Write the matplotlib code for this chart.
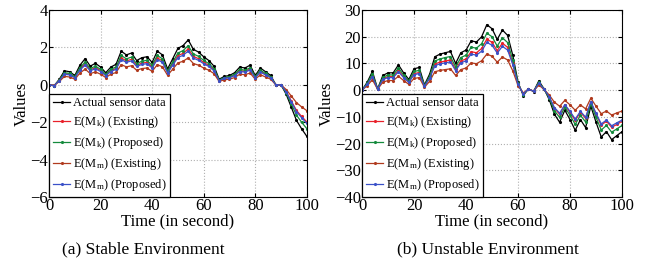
import matplotlib
matplotlib.use('Agg')
import matplotlib.pyplot as plt

plt.rcParams['font.family'] = ['Liberation Serif', 'DejaVu Serif']
plt.rcParams['mathtext.fontset'] = 'custom'
plt.rcParams['mathtext.rm'] = 'Liberation Serif'
plt.rcParams['mathtext.it'] = 'Liberation Serif:italic'

# time axis (seconds)
t = list(range(0, 101, 2))

# (a) stable environment
stable_actual = [0.0, -0.05, 0.3, 0.75, 0.7, 0.5, 1.05, 1.4, 1.0, 1.15, 0.95, 0.65, 0.95, 1.1, 1.8,
                 1.6, 1.7, 1.3, 1.45, 1.5, 1.2, 1.8, 1.6, 0.85, 1.4, 1.95, 2.1, 2.4, 1.9, 1.75, 1.5,
                 1.3, 1.0, 0.3, 0.45, 0.5, 0.65, 0.95, 0.9, 1.05, 0.5, 0.9, 0.7, 0.5, 0.0, 0.0,
                 -0.5, -1.2, -1.9, -2.35, -2.75]
stable_mk_exist = [0.0, -0.04, 0.24, 0.6, 0.56, 0.4, 0.84, 1.12, 0.8, 0.92, 0.76, 0.52, 0.76, 0.88, 1.44,
                   1.28, 1.36, 1.04, 1.16, 1.2, 0.96, 1.44, 1.28, 0.68, 1.12, 1.56, 1.68, 1.92, 1.52, 1.4,
                   1.2, 1.04, 0.8, 0.24, 0.36, 0.4, 0.52, 0.76, 0.72, 0.84, 0.4, 0.72, 0.56, 0.4, 0.0, 0.0,
                   -0.36, -0.86, -1.37, -1.69, -1.98]
stable_mk_prop = [0.0, -0.04, 0.26, 0.65, 0.61, 0.44, 0.91, 1.22, 0.87, 1.0, 0.83, 0.57, 0.83, 0.96, 1.57,
                  1.39, 1.48, 1.13, 1.26, 1.31, 1.04, 1.57, 1.39, 0.74, 1.22, 1.7, 1.83, 2.09, 1.65, 1.52,
                  1.31, 1.13, 0.87, 0.26, 0.39, 0.44, 0.57, 0.83, 0.78, 0.91, 0.44, 0.78, 0.61, 0.44, 0.0,
                  0.0, -0.43, -1.02, -1.62, -2.0, -2.34]
stable_mm_exist = [0.0, -0.03, 0.18, 0.45, 0.42, 0.3, 0.63, 0.84, 0.6, 0.69, 0.57, 0.39, 0.57, 0.66, 1.08,
                   0.96, 1.02, 0.78, 0.87, 0.9, 0.72, 1.08, 0.96, 0.51, 0.84, 1.17, 1.26, 1.44, 1.14, 1.05,
                   0.9, 0.78, 0.6, 0.18, 0.27, 0.3, 0.39, 0.57, 0.54, 0.63, 0.3, 0.54, 0.42, 0.3, 0.0, 0.0,
                   -0.25, -0.6, -0.95, -1.18, -1.38]
stable_mm_prop = [0.0, -0.04, 0.23, 0.56, 0.53, 0.38, 0.79, 1.05, 0.75, 0.86, 0.71, 0.49, 0.71, 0.83, 1.35,
                  1.2, 1.28, 0.98, 1.09, 1.13, 0.9, 1.35, 1.2, 0.64, 1.05, 1.46, 1.58, 1.8, 1.43, 1.31,
                  1.13, 0.98, 0.75, 0.23, 0.34, 0.38, 0.49, 0.71, 0.68, 0.79, 0.38, 0.68, 0.53, 0.38, 0.0,
                  0.0, -0.38, -0.9, -1.43, -1.76, -2.06]

# (b) unstable environment
unstable_actual = [0, 3.0, 7.0, 0.5, 5.5, 6.5, 6.5, 9.5, 6.5, 4.0, 8.0, 8.5, 2.0, 6.0, 12.5, 13.5, 14.0,
                   14.5, 10.0, 14.0, 15.0, 18.5, 18.0, 20.0, 24.5, 23.0, 19.0, 22.5, 20.5, 13.0, 3.0,
                   -2.0, 0.5, -0.5, 3.5, 0.5, -3.5, -9.0, -12.0, -7.5, -11.0, -15.0, -11.0, -14.0, -6.0,
                   -12.0, -17.5, -15.5, -18.5, -17.0, -15.5]
unstable_mk_exist = [0, 2.3, 5.5, 0.4, 4.3, 5.1, 5.1, 7.4, 5.1, 3.1, 6.2, 6.6, 1.6, 4.7, 9.8, 10.5, 10.9,
                     11.3, 7.8, 10.9, 11.7, 14.4, 14.0, 15.6, 19.1, 17.9, 14.8, 17.6, 16.0, 10.1, 2.3,
                     -1.5, 0.4, -0.4, 2.7, 0.4, -2.6, -6.8, -9.0, -5.6, -8.3, -11.3, -8.3, -10.5, -4.5,
                     -9.0, -13.1, -11.6, -13.9, -12.8, -11.6]
unstable_mk_prop = [0, 2.6, 6.1, 0.4, 4.8, 5.7, 5.7, 8.3, 5.7, 3.5, 7.0, 7.4, 1.7, 5.2, 10.9, 11.7, 12.2,
                    12.6, 8.7, 12.2, 13.1, 16.1, 15.7, 17.4, 21.3, 20.0, 16.5, 19.6, 17.8, 11.3, 2.6,
                    -1.7, 0.4, -0.4, 3.0, 0.4, -3.0, -7.7, -10.2, -6.4, -9.4, -12.8, -9.4, -11.9, -5.1,
                    -10.2, -14.9, -13.2, -15.7, -14.5, -13.2]
unstable_mm_exist = [0, 1.7, 3.9, 0.3, 3.0, 3.6, 3.6, 5.2, 3.6, 2.2, 4.4, 4.7, 1.1, 3.3, 6.9, 7.4, 7.7,
                     8.0, 5.5, 7.7, 8.3, 10.2, 9.9, 11.0, 13.5, 12.7, 10.5, 12.4, 11.3, 7.2, 1.7, -1.0,
                     0.3, -0.3, 1.9, 0.3, -1.8, -4.5, -6.0, -3.8, -5.5, -7.5, -5.5, -7.0, -3.0, -6.0,
                     -8.8, -7.8, -9.3, -8.5, -7.8]
unstable_mm_prop = [0, 2.2, 5.1, 0.4, 4.0, 4.7, 4.7, 6.9, 4.7, 2.9, 5.8, 6.2, 1.5, 4.4, 9.1, 9.9, 10.2,
                    10.6, 7.3, 10.2, 11.0, 13.5, 13.1, 14.6, 17.9, 16.8, 13.9, 16.4, 15.0, 9.5, 2.2,
                    -1.4, 0.4, -0.4, 2.6, 0.4, -2.5, -6.5, -8.6, -5.4, -7.9, -10.8, -7.9, -10.1, -4.3,
                    -8.6, -12.6, -11.2, -13.3, -12.2, -11.2]

labels = ['Actual sensor data',
          r'E(M$_\mathrm{k}$) (Existing)',
          r'E(M$_\mathrm{k}$) (Proposed)',
          r'E(M$_\mathrm{m}$) (Existing)',
          r'E(M$_\mathrm{m}$) (Proposed)']
colors = ['black', '#e8202a', '#148a3c', '#b03a1e', '#3a50c8']

fig = plt.figure(figsize=(6.46, 2.70), dpi=100)
ax1 = fig.add_axes([0.0759, 0.270, 0.399, 0.693])
ax2 = fig.add_axes([0.5604, 0.270, 0.4025, 0.693])

panels = [
    (ax1, [stable_actual, stable_mk_exist, stable_mk_prop, stable_mm_exist, stable_mm_prop],
     (-6, 4), range(-6, 5, 2), '(a) Stable Environment', 0.222),
    (ax2, [unstable_actual, unstable_mk_exist, unstable_mk_prop, unstable_mm_exist, unstable_mm_prop],
     (-40, 30), range(-40, 31, 10), '(b) Unstable Environment', 0.755),
]

for ax, series, ylim, yticks, caption, cx in panels:
    for s, c, lab in zip(series, colors, labels):
        ax.plot(t, s, color=c, linewidth=0.9, marker='.', markersize=2.5, label=lab)
    ax.set_xlim(0, 100)
    ax.set_ylim(*ylim)
    ax.set_xticks(range(0, 101, 20))
    ax.set_yticks(list(yticks))
    ax.grid(True, linestyle=':', color='#b0b0b0', linewidth=0.8)
    ax.tick_params(direction='in', length=3, labelsize=12, pad=1, top=True, right=True)
    for sp in ax.spines.values():
        sp.set_linewidth(0.8)
    ax.set_xlabel('Time (in second)', fontsize=12, labelpad=-1)
    ax.set_ylabel('Values', fontsize=12, labelpad=0)
    leg = ax.legend(loc='lower left', fontsize=9, borderaxespad=0, handlelength=1.4,
                    handletextpad=0.2, labelspacing=0.4, fancybox=False, framealpha=1,
                    borderpad=0.3)
    leg.get_frame().set_edgecolor('black')
    leg.get_frame().set_linewidth(0.9)
    fig.text(cx, 0.075, caption, ha='center', va='center', fontsize=12.5)

fig.savefig('out.png', dpi=100)
